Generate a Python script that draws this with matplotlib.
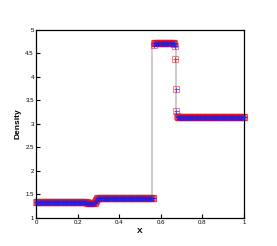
import numpy as np
import matplotlib
matplotlib.use('Agg')
import matplotlib.pyplot as plt

plt.rcParams['font.family'] = ['Liberation Sans', 'DejaVu Sans']

# numerical solution: density levels and how many grid cells hold each level
levels = [1.33, 1.31, 1.32, 1.34, 1.36, 1.38, 1.40, 1.42, 1.43,
          4.68, 4.71, 4.69, 4.66, 4.37, 3.73, 3.28, 3.17, 3.15]
counts = [96, 14, 1, 1, 1, 1, 1, 1, 105,
          1, 38, 1, 1, 1, 1, 1, 1, 126]
x = np.linspace(0, 1, sum(counts))
rho = np.repeat(levels, counts)

# exact solution (gray)
x_ex = [0.0, 0.28, 0.28, 0.558, 0.558, 0.672, 0.672, 1.0]
rho_ex = [1.33, 1.33, 1.43, 1.43, 4.71, 4.71, 3.15, 3.15]

fig = plt.figure(figsize=(2.77, 2.46), dpi=100)
ax = fig.add_axes([0.130, 0.114, 0.751, 0.766])
ax.plot(x_ex, rho_ex, color='#c8c8c8', lw=1.3, zorder=1)
ax.plot(x, rho, ls='none', marker='s', ms=3.8, mfc='none', mec='#e8102a', mew=0.8,
        alpha=0.5, clip_on=False, zorder=2)
ax.plot(x, rho, ls='none', marker='+', ms=3.6, mec='#2020e0', mew=0.7,
        alpha=0.7, clip_on=False, zorder=3)

ax.set_xlim(0, 1)
ax.set_ylim(1, 5)
ax.set_xticks([0, 0.2, 0.4, 0.6, 0.8, 1])
ax.set_xticklabels(['0', '0.2', '0.4', '0.6', '0.8', '1'])
ax.set_yticks([1, 1.5, 2, 2.5, 3, 3.5, 4, 4.5, 5])
ax.set_yticklabels(['1', '1.5', '2', '2.5', '3', '3.5', '4', '4.5', '5'])
ax.tick_params(direction='in', length=3, width=0.8, labelsize=4.4, pad=1.5)
for s in ax.spines.values():
    s.set_linewidth(0.9)
ax.set_xlabel('X', fontsize=6, fontweight='bold', labelpad=2)
ax.set_ylabel('Density', fontsize=6, fontweight='bold', labelpad=3)
plt.savefig('out.png', dpi=100)
plt.close()
